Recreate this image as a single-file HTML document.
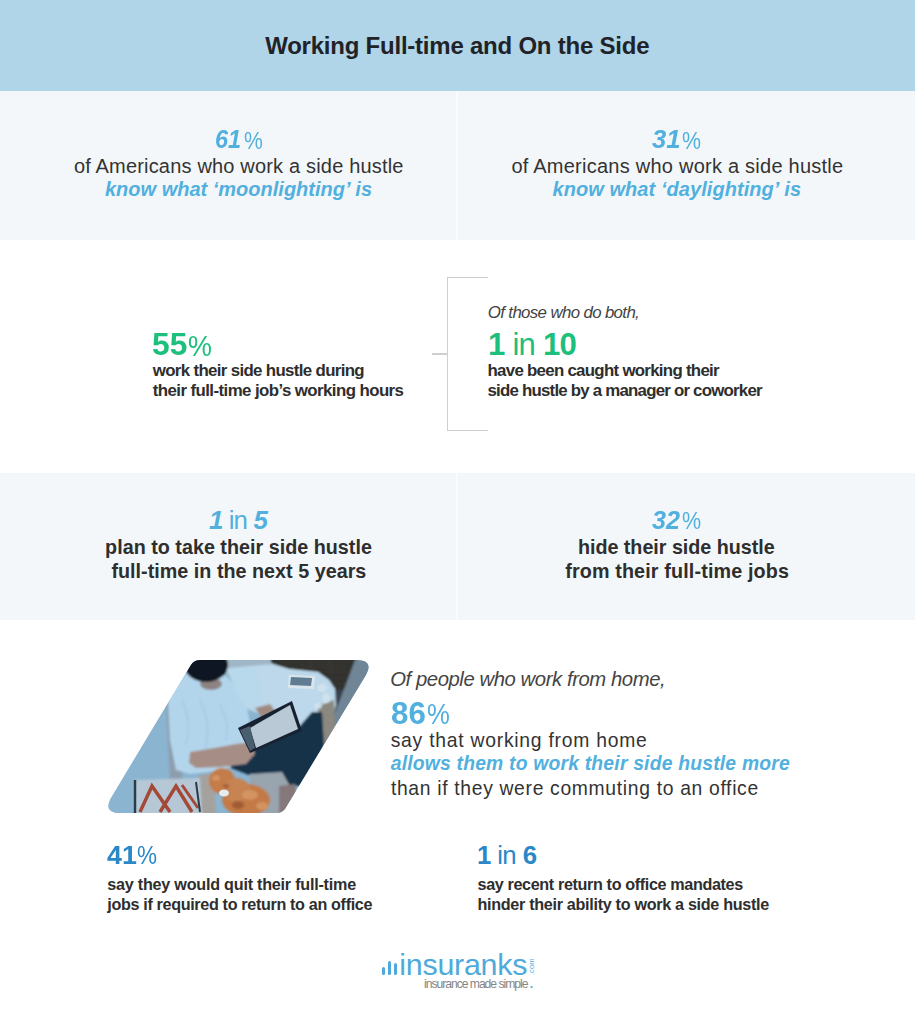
<!DOCTYPE html>
<html><head><meta charset="utf-8"><title>Working Full-time and On the Side</title>
<style>
html,body{margin:0;padding:0;}
body{width:915px;height:1024px;overflow:hidden;position:relative;background:#fff;font-family:'Liberation Sans', Arial, sans-serif;}
.t{position:absolute;white-space:nowrap;line-height:1;}
.bx{position:absolute;}
</style></head><body>
<div class="bx" style="left:0;top:0;width:915px;height:91px;background:#b0d4e8"></div>
<div class="bx" style="left:0;top:91px;width:915px;height:149px;background:#f3f7fa"></div>
<div class="bx" style="left:456px;top:91px;width:2px;height:149px;background:#f9fcfb"></div>
<div class="bx" style="left:0;top:473px;width:915px;height:147px;background:#f3f7fa"></div>
<div class="bx" style="left:456px;top:473px;width:2px;height:147px;background:#f9fcfb"></div>
<div class="bx" style="left:447px;top:277px;width:41px;height:152px;border:1.5px solid #cfcfcf;border-right:none;box-sizing:border-box;width:41px;height:154px"></div>
<div class="bx" style="left:432px;top:353px;width:16px;height:1.5px;background:#cfcfcf"></div>
<svg style="position:absolute;left:0;top:0" width="915" height="1024" viewBox="0 0 915 1024">
<defs>
<clipPath id="pc"><path d="M190.9,665.1 Q194.0,660.0 200.0,660.0 L356.0,660.0 Q375.0,660.0 365.2,676.3 L285.6,807.9 Q282.5,813.0 276.5,813.0 L121.0,813.0 Q102.0,813.0 111.8,796.7 Z"/></clipPath>
<filter id="bl" x="-20%" y="-20%" width="140%" height="140%"><feGaussianBlur stdDeviation="1.3"/></filter>
<filter id="bl2" x="-20%" y="-20%" width="140%" height="140%"><feGaussianBlur stdDeviation="0.6"/></filter>
</defs>
<g clip-path="url(#pc)">
<rect x="90" y="650" width="300" height="170" fill="#8ab4d0"/>
<g filter="url(#bl)">
<polygon points="90,650 200,650 175,700 168,740 181,782 168,820 90,820" fill="#8ab4d0"/>
<polygon points="166,700 178,690 184,735 182,782 170,782 168,740" fill="#8c9eae"/>
<!-- sofa back / top light -->
<polygon points="222,652 275,652 275,668 250,670 228,680" fill="#9fb6c6"/>
<!-- brick wall -->
<polygon points="268,652 385,652 360,662 340,700 336,700 335,689 329,680 318,672 289,669 272,664" fill="#32302f"/>
<!-- shadow strip between blanket and arm -->
<polygon points="336,690 352,690 335,745 318,745 322,705" fill="#3b4350"/>
<!-- sofa arm strip -->
<polygon points="355,660 385,650 350,745 322,745 340,700" fill="#6f8596"/>
<!-- blanket -->
<polygon points="228,668 250,666 273,664 289,669 318,672 329,680 335,689 336,705 330,728 300,726 270,718 245,708 235,690" fill="#bcd8ea"/>
<!-- beige right of jeans -->
<polygon points="318,706 334,700 336,745 318,745" fill="#8a8880"/>
<!-- shirt -->
<polygon points="172,678 186,672 205,678 226,676 240,690 248,712 252,735 246,752 225,770 190,774 176,770 170,740 168,700" fill="#b3d5ec"/>
<polygon points="226,668 255,668 262,700 258,712 240,700" fill="#b8d8ec"/>
<!-- face -->
<ellipse cx="211" cy="684" rx="11" ry="6" fill="#8d8482"/>
<!-- hair -->
<ellipse cx="206" cy="665" rx="22" ry="17" fill="#0f1820"/>
<!-- jeans -->
<polygon points="232,760 265,744 298,728 312,712 322,712 324,745 316,785 300,786 286,785 281,772 262,780 231,768" fill="#173149"/>
<!-- arm -->
<polygon points="190,752 214,748 236,744 252,742 255,754 246,764 220,767 196,768 189,763" fill="#a68e86"/>
<!-- forearm near tablet -->
<polygon points="255,708 270,704 276,712 262,718" fill="#a08a80"/>
<!-- legs and sheet -->
<polygon points="250,774 282,772 290,786 286,815 250,815" fill="#98a4ae"/>
<polygon points="279,786 295,784 298,800 292,815 279,815" fill="#86787a"/>
<!-- beige floor -->
<polygon points="198,776 214,772 216,815 198,815" fill="#a4a29e"/>
<!-- pillow -->
<polygon points="134,780 200,778 202,815 134,815" fill="#b6c8d6"/>
<!-- cat -->
<ellipse cx="222" cy="781" rx="13" ry="13" fill="#c47c48"/>
<ellipse cx="246" cy="800" rx="24" ry="16" fill="#c37a46"/>
<ellipse cx="236" cy="790" rx="14" ry="12" fill="#c88352"/>
</g>
<g filter="url(#bl2)">
<!-- tablet -->
<polygon points="238,728 292,701 302,731 250,753" fill="#182230"/>
<polygon points="250,728 290,705 298,729 256,748" fill="#b9c9d6"/>
<polygon points="240,730 250,726 255,748 250,751" fill="#4a5e70"/>
<!-- phone -->
<polygon points="289,675 315,676 314,689 288,688" fill="#dbe6ec"/>
<polygon points="291,677 312,678 311,686 290,685" fill="#5e7c92"/>
<!-- pillow border + zigzag -->
<polyline points="135,780 135,813" stroke="#2a3a48" stroke-width="2.5" fill="none"/>
<polyline points="140,812 152,786 170,812" fill="none" stroke="#a44a38" stroke-width="3.5"/>
<polyline points="160,812 176,786 192,812" fill="none" stroke="#a44a38" stroke-width="3.5"/>
<polyline points="182,785 198,808" fill="none" stroke="#a44a38" stroke-width="3"/>
<polyline points="196,782 200,812" fill="none" stroke="#2a3a48" stroke-width="2"/>
<!-- cat chest -->
<ellipse cx="224" cy="793" rx="5" ry="3.5" fill="#e6ecf0"/>
</g>
<g filter="url(#bl)">
<!-- brick lines -->
<g stroke="#4a4440" stroke-width="0.8" fill="none" opacity="0.8">
<line x1="290" y1="662" x2="350" y2="662"/><line x1="300" y1="667" x2="345" y2="667"/>
<line x1="325" y1="672" x2="350" y2="672"/><line x1="330" y1="678" x2="348" y2="678"/>
<line x1="333" y1="684" x2="345" y2="684"/><line x1="310" y1="660" x2="312" y2="667"/><line x1="330" y1="662" x2="332" y2="672"/>
</g>
<!-- blanket ruffles -->
<g fill="#d2e4ef" opacity="0.9">
<ellipse cx="322" cy="688" rx="5" ry="4"/><ellipse cx="326" cy="698" rx="4" ry="5"/><ellipse cx="318" cy="706" rx="4" ry="3"/>
</g>
<!-- shirt folds -->
<g stroke="#9cc2dc" stroke-width="1.2" fill="none" opacity="0.8">
<path d="M182,700 Q192,720 186,745"/><path d="M200,700 Q212,725 205,750"/><path d="M220,705 Q230,722 226,740"/>
</g>
<!-- cat fur highlights -->
<g fill="#d89a68" opacity="0.8">
<ellipse cx="250" cy="795" rx="8" ry="5"/><ellipse cx="262" cy="806" rx="6" ry="4"/><ellipse cx="216" cy="778" rx="4" ry="3"/>
</g>
<g fill="#8c4a28" opacity="0.6">
<ellipse cx="238" cy="805" rx="6" ry="4"/><ellipse cx="226" cy="786" rx="3" ry="2"/>
</g>
</g>
</g>
</svg>
<div class="bx" style="left:381.6px;top:967px;width:3px;height:7.7px;background:#4eaadb;border-radius:1.5px"></div>
<div class="bx" style="left:387.7px;top:961.3px;width:3px;height:13.4px;background:#4eaadb;border-radius:1.5px"></div>
<div class="bx" style="left:393.9px;top:962.6px;width:3.2px;height:12.1px;background:#4eaadb;border-radius:1.5px"></div>
<div class="t" style="left:527.8px;top:974.6px;font-size:7.6px;color:#4eaadb;transform:rotate(-90deg);transform-origin:0 0">.com</div>
<div class="t" style="left:265.20px;top:33.80px;font-size:23.97px;letter-spacing:-0.212px;color:#1f2327;font-weight:700;">Working Full-time and On the Side</div><div class="t" style="left:214.80px;top:127.40px;font-size:25.86px;letter-spacing:0.000px;color:#51b0de;font-weight:700;font-style:italic;transform:scaleX(0.9085);transform-origin:0 0;">61</div><div class="t" style="left:244.00px;top:128.50px;font-size:24.00px;letter-spacing:0.000px;color:#51b0de;transform:scaleX(0.8816);transform-origin:0 0;">%</div><div class="t" style="left:73.90px;top:156.20px;font-size:20.00px;letter-spacing:0.179px;color:#333333;">of Americans who work a side hustle</div><div class="t" style="left:105.00px;top:178.90px;font-size:20.00px;letter-spacing:0.000px;color:#51b0de;font-weight:700;font-style:italic;">know what ‘moonlighting’ is</div><div class="t" style="left:651.60px;top:127.40px;font-size:25.86px;letter-spacing:0.000px;color:#51b0de;font-weight:700;font-style:italic;transform:scaleX(0.9932);transform-origin:0 0;">31</div><div class="t" style="left:681.50px;top:128.50px;font-size:24.00px;letter-spacing:0.000px;color:#51b0de;transform:scaleX(0.8906);transform-origin:0 0;">%</div><div class="t" style="left:511.40px;top:156.20px;font-size:20.00px;letter-spacing:0.244px;color:#333333;">of Americans who work a side hustle</div><div class="t" style="left:552.50px;top:178.90px;font-size:20.00px;letter-spacing:0.060px;color:#51b0de;font-weight:700;font-style:italic;">know what ‘daylighting’ is</div><div class="t" style="left:151.80px;top:329.20px;font-size:31.16px;letter-spacing:0.000px;color:#1dbf7c;font-weight:700;transform:scaleX(1.0186);transform-origin:0 0;">55</div><div class="t" style="left:188.30px;top:330.70px;font-size:30.29px;letter-spacing:0.000px;color:#1dbf7c;transform:scaleX(0.8889);transform-origin:0 0;">%</div><div class="t" style="left:152.80px;top:362.80px;font-size:16.85px;letter-spacing:-0.657px;color:#2e2e2e;font-weight:700;">work their side hustle during</div><div class="t" style="left:152.80px;top:383.30px;font-size:16.85px;letter-spacing:-0.576px;color:#2e2e2e;font-weight:700;">their full-time job’s working hours</div><div class="t" style="left:487.80px;top:305.40px;font-size:16.85px;letter-spacing:-0.640px;color:#444444;font-style:italic;">Of those who do both,</div><div class="t" style="left:488.00px;top:329.10px;font-size:31.16px;letter-spacing:-0.800px;color:#1dbf7c;"><span style="font-weight:700;">1</span> in <span style="font-weight:700;">10</span></div><div class="t" style="left:487.50px;top:362.80px;font-size:16.85px;letter-spacing:-0.710px;color:#2e2e2e;font-weight:700;">have been caught working their</div><div class="t" style="left:487.50px;top:382.50px;font-size:16.85px;letter-spacing:-0.780px;color:#2e2e2e;font-weight:700;">side hustle by a manager or coworker</div><div class="t" style="left:209.00px;top:507.90px;font-size:25.86px;letter-spacing:-0.900px;color:#51b0de;"><span style="font-weight:700;font-style:italic;">1</span> in <span style="font-weight:700;font-style:italic;">5</span></div><div class="t" style="left:105.10px;top:537.80px;font-size:19.73px;letter-spacing:0.017px;color:#2e2e2e;font-weight:700;">plan to take their side hustle</div><div class="t" style="left:111.40px;top:562.30px;font-size:19.73px;letter-spacing:0.025px;color:#2e2e2e;font-weight:700;">full-time in the next 5 years</div><div class="t" style="left:651.60px;top:507.90px;font-size:25.86px;letter-spacing:0.000px;color:#51b0de;font-weight:700;font-style:italic;transform:scaleX(0.9727);transform-origin:0 0;">32</div><div class="t" style="left:681.80px;top:509.20px;font-size:24.00px;letter-spacing:0.000px;color:#51b0de;transform:scaleX(0.8960);transform-origin:0 0;">%</div><div class="t" style="left:577.90px;top:537.80px;font-size:19.73px;letter-spacing:-0.019px;color:#2e2e2e;font-weight:700;">hide their side hustle</div><div class="t" style="left:565.20px;top:562.20px;font-size:19.73px;letter-spacing:0.146px;color:#2e2e2e;font-weight:700;">from their full-time jobs</div><div class="t" style="left:390.20px;top:669.30px;font-size:20.27px;letter-spacing:-0.421px;color:#444444;font-style:italic;">Of people who work from home,</div><div class="t" style="left:391.00px;top:697.70px;font-size:31.16px;letter-spacing:0.000px;color:#51b0de;font-weight:700;transform:scaleX(1.0032);transform-origin:0 0;">86</div><div class="t" style="left:427.00px;top:699.20px;font-size:30.29px;letter-spacing:0.000px;color:#51b0de;transform:scaleX(0.8486);transform-origin:0 0;">%</div><div class="t" style="left:390.70px;top:731.10px;font-size:19.32px;letter-spacing:0.756px;color:#333333;">say that working from home</div><div class="t" style="left:390.70px;top:754.10px;font-size:19.32px;letter-spacing:0.205px;color:#51b0de;font-weight:700;font-style:italic;">allows them to work their side hustle more</div><div class="t" style="left:390.90px;top:778.60px;font-size:19.32px;letter-spacing:0.674px;color:#333333;">than if they were commuting to an office</div><div class="t" style="left:106.60px;top:842.80px;font-size:25.80px;letter-spacing:0.000px;color:#2a87c8;font-weight:700;transform:scaleX(1.0420);transform-origin:0 0;">41</div><div class="t" style="left:137.20px;top:843.20px;font-size:25.00px;letter-spacing:0.000px;color:#2a87c8;transform:scaleX(0.9007);transform-origin:0 0;">%</div><div class="t" style="left:107.30px;top:875.70px;font-size:16.16px;letter-spacing:-0.232px;color:#2e2e2e;font-weight:700;">say they would quit their full-time</div><div class="t" style="left:107.30px;top:896.40px;font-size:16.16px;letter-spacing:-0.345px;color:#2e2e2e;font-weight:700;">jobs if required to return to an office</div><div class="t" style="left:476.90px;top:842.90px;font-size:25.80px;letter-spacing:-0.600px;color:#2a87c8;"><span style="font-weight:700;">1</span> in <span style="font-weight:700;">6</span></div><div class="t" style="left:477.50px;top:875.70px;font-size:16.16px;letter-spacing:-0.360px;color:#2e2e2e;font-weight:700;">say recent return to office mandates</div><div class="t" style="left:477.50px;top:896.30px;font-size:16.16px;letter-spacing:-0.307px;color:#2e2e2e;font-weight:700;">hinder their ability to work a side hustle</div><div class="t" style="left:399.30px;top:948.60px;font-size:30.41px;letter-spacing:-0.250px;color:#4eaadb;">insuranks</div><div class="t" style="left:424.00px;top:977.80px;font-size:12.19px;letter-spacing:-1.045px;color:#858585;">insurance made simple<span style="color:#4eaadb;font-weight:700;margin-left:2.4px">.</span></div>
</body></html>
